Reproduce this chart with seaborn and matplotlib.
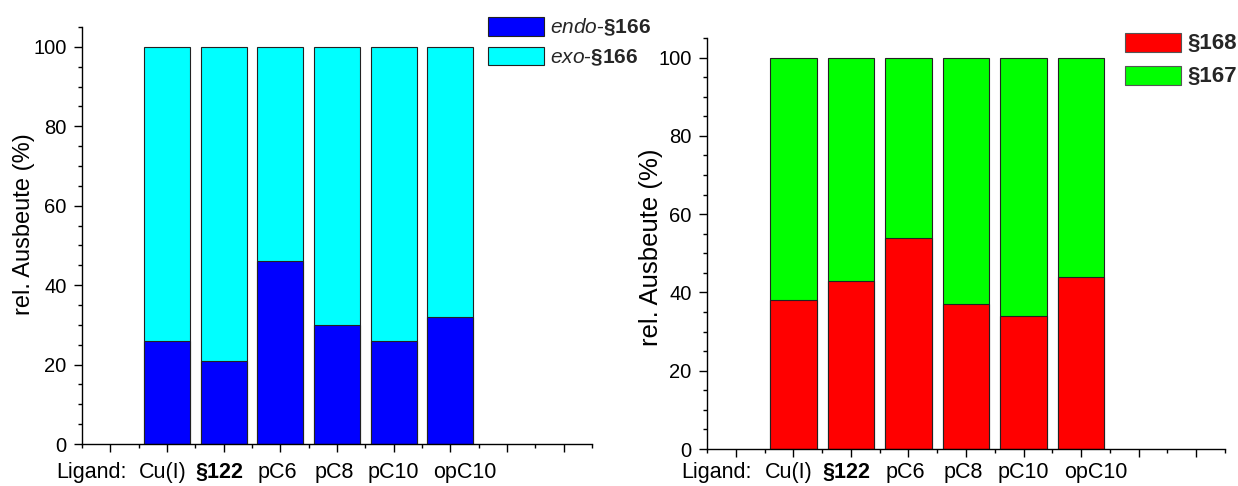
import pandas as pd
import matplotlib.pyplot as plt
import matplotlib.transforms as mtransforms
from matplotlib.patches import Patch
from matplotlib.ticker import MultipleLocator
import seaborn as sns

# --- data ---
ligands = ["Cu(I)", "§122", "pC6", "pC8", "pC10", "opC10"]
endo_166 = [26, 21, 46, 30, 26, 32]
exo_166 = [74, 79, 54, 70, 74, 68]
p168 = [38, 43, 54, 37, 34, 44]
p167 = [62, 57, 46, 63, 66, 56]

# slots on the x axis: one in front for "Ligand:", two empty ones behind
slots = ["Ligand:"] + ligands + ["_e1", "_e2"]
label_texts = ["Ligand:"] + ligands
label_x = [-0.33, 0.92, 1.92, 2.95, 3.96, 5.0, 6.25]

sns.set_theme(style="ticks")
plt.rcParams['font.family'] = ['Liberation Sans', 'DejaVu Sans']
plt.rcParams['mathtext.fontset'] = 'custom'
plt.rcParams['mathtext.rm'] = 'Liberation Sans'
plt.rcParams['mathtext.it'] = 'Liberation Sans:italic'
plt.rcParams['mathtext.bf'] = 'Liberation Sans:bold'

fig = plt.figure(figsize=(12.38, 4.86), dpi=100)
ax1 = fig.add_axes([82 / 1238, 42 / 486, 510 / 1238, 417 / 486])
ax2 = fig.add_axes([707 / 1238, 37 / 486, 518 / 1238, 411 / 486])

bar_kw = dict(order=slots, width=0.81, saturation=1, edgecolor='#222222',
              linewidth=0.8, errorbar=None)


def stacked(ax, bottom_vals, top_vals, c_bottom, c_top):
    df = pd.DataFrame({'ligand': ligands, 'bottom': bottom_vals, 'top': top_vals})
    df['total'] = df['bottom'] + df['top']
    sns.barplot(data=df, x='ligand', y='total', color=c_top, ax=ax, **bar_kw)
    sns.barplot(data=df, x='ligand', y='bottom', color=c_bottom, ax=ax, **bar_kw)


stacked(ax1, endo_166, exo_166, '#0000FF', '#00FFFF')
stacked(ax2, p168, p167, '#FF0000', '#00FF00')

for ax, lab_size, lab_pos, txt_y in [(ax1, 17, (-0.092, 0.528), -0.043),
                                     (ax2, 18.5, (-0.085, 0.49), -0.032)]:
    ax.set_xlim(-0.5, len(slots) - 0.5)
    ax.set_ylim(0, 105)
    ax.set_xticks(range(len(slots)))
    ax.set_xticks([i - 0.5 for i in range(len(slots) + 1)], minor=True)
    ax.set_xticklabels([])
    ax.set_xlabel('')
    ax.yaxis.set_major_locator(MultipleLocator(20))
    ax.yaxis.set_minor_locator(MultipleLocator(5))
    ax.tick_params(axis='both', which='major', direction='out', length=6, width=1,
                   color='black', labelsize=14.5, labelcolor='black', pad=5)
    ax.tick_params(axis='both', which='minor', direction='out', length=3, width=1,
                   color='black')
    for side in ['top', 'right']:
        ax.spines[side].set_visible(False)
    for side in ['left', 'bottom']:
        ax.spines[side].set_color('black')
        ax.spines[side].set_linewidth(1.0)
    ax.set_ylabel('rel. Ausbeute (%)', fontsize=lab_size, color='black')
    ax.yaxis.set_label_coords(*lab_pos)

    # category labels under the axis
    trans = mtransforms.blended_transform_factory(ax.transData, ax.transAxes)
    for txt, xp in zip(label_texts, label_x):
        ax.text(xp, txt_y, txt, transform=trans, ha='center', va='top',
                fontsize=15.5, color='black',
                fontweight='bold' if txt == '§122' else 'normal')

leg_kw = dict(loc='upper left', frameon=False, fontsize=15, handlelength=2.7,
              handleheight=1.0, handletextpad=0.3,
              borderpad=0, borderaxespad=0)

h1 = [Patch(facecolor='#0000FF', edgecolor='#222222', linewidth=0.8),
      Patch(facecolor='#00FFFF', edgecolor='#222222', linewidth=0.8)]
fig.legend(h1, [r'$\mathit{endo}$-$\mathbf{§166}$', r'$\mathit{exo}$-$\mathbf{§166}$'],
           bbox_to_anchor=(488 / 1238, 1 - 17 / 486), labelspacing=0.4, **leg_kw)

h2 = [Patch(facecolor='#FF0000', edgecolor='#555555', linewidth=0.8),
      Patch(facecolor='#00FF00', edgecolor='#555555', linewidth=0.8)]
leg2 = fig.legend(h2, ['§168', '§167'],
                  bbox_to_anchor=(1125 / 1238, 1 - 33 / 486), labelspacing=0.55, **leg_kw)
for t in leg2.get_texts():
    t.set_fontweight('bold')
    t.set_fontsize(16)

fig.savefig('out.png', dpi=100)
